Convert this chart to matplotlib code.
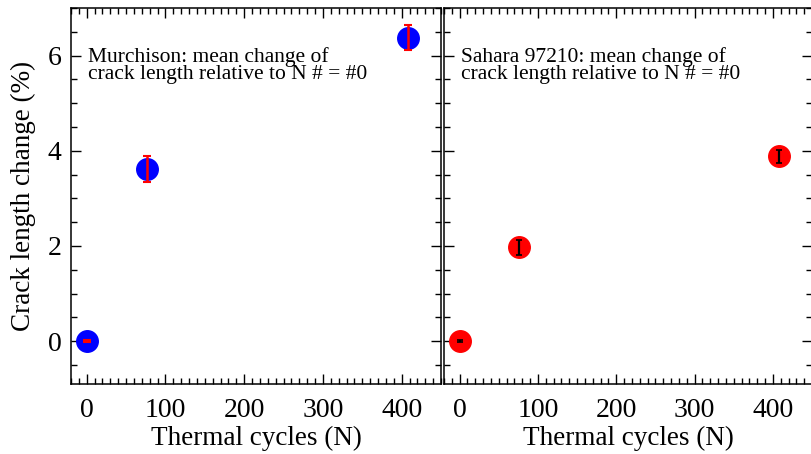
import matplotlib
matplotlib.use('Agg')
import matplotlib.pyplot as plt
from matplotlib.ticker import MultipleLocator

plt.rcParams['font.family'] = ['Liberation Serif', 'DejaVu Serif']
plt.rcParams['mathtext.fontset'] = 'stix'

# thermal cycles and mean crack length change (%)
cycles = [0, 76, 408]
murch_change = [0.0, 3.61, 6.38]
murch_err = [0.02, 0.27, 0.26]
sahara_change = [0.0, 1.97, 3.88]
sahara_err = [0.02, 0.15, 0.14]

labels = ["Murchison: mean change of\ncrack length relative to N # = #0",
          "Sahara 97210: mean change of\ncrack length relative to N # = #0"]

W, H = 811, 454
fig = plt.figure(figsize=(W / 100, H / 100), dpi=100)
ax1 = fig.add_axes([71 / W, 1 - 384 / H, 370 / W, 376 / H])
ax2 = fig.add_axes([444 / W, 1 - 384 / H, 368 / W, 376 / H])

# markers first, error bars on top
ax1.plot(cycles, murch_change, 'o', color='blue', ms=15.5, zorder=2)
ax1.errorbar(cycles, murch_change, yerr=murch_err, fmt='none',
             ecolor='red', elinewidth=1.8, capsize=3, capthick=1.5, zorder=3)
ax2.plot(cycles, sahara_change, 'o', color='red', ms=15.5, zorder=2)
ax2.errorbar(cycles, sahara_change, yerr=sahara_err, fmt='none',
             ecolor='black', elinewidth=1.6, capsize=2.5, capthick=1.2, zorder=3)

for ax, lab in zip([ax1, ax2], labels):
    ax.set_xlim(-20, 450)
    ax.set_ylim(-0.9, 7)
    ax.xaxis.set_major_locator(MultipleLocator(100))
    ax.xaxis.set_minor_locator(MultipleLocator(10))
    ax.yaxis.set_major_locator(MultipleLocator(2))
    ax.yaxis.set_minor_locator(MultipleLocator(0.5))
    ax.tick_params(which='both', direction='in', top=True, right=True,
                   labelsize=20, width=1)
    ax.tick_params(axis='x', pad=10)
    ax.tick_params(axis='y', pad=7)
    ax.tick_params(which='major', length=7)
    ax.tick_params(which='minor', length=4)
    for s in ax.spines.values():
        s.set_linewidth(1.1)
    ax.set_xlabel("Thermal cycles (N)", fontsize=19.5, labelpad=2)
    ax.text(0.045, 0.895, lab, transform=ax.transAxes, fontsize=15.5,
            va='top', ha='left', linespacing=0.85)

ax1.set_ylabel("Crack length change (%)", fontsize=19.5, labelpad=8)
ax2.tick_params(labelleft=False)

fig.savefig('out.png', dpi=100)
